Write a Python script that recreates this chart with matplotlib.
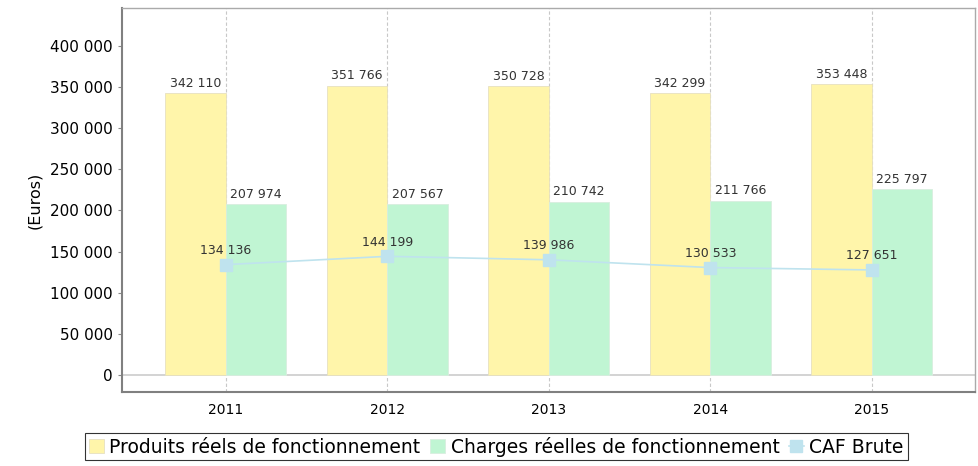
import numpy as np
import matplotlib.pyplot as plt
from matplotlib.ticker import FuncFormatter

annees = ["2011", "2012", "2013", "2014", "2015"]
produits = [342110, 351766, 350728, 342299, 353448]
charges = [207974, 207567, 210742, 211766, 225797]
caf = [134136, 144199, 139986, 130533, 127651]

jaune = "#fff5aa"
vert = "#c0f5d3"
bleu = "#bfe3ee"


def fmt(v):
    return f"{int(v):,}".replace(",", " ")


fig = plt.figure(figsize=(9.79, 4.66), dpi=100)
ax = fig.add_axes([122 / 979, 74 / 466, 853 / 979, 384 / 466])

x = np.arange(len(annees))
larg = 0.375
b1 = ax.bar(x - larg / 2, produits, larg, color=jaune, edgecolor="#e6e0c0", linewidth=0.6,
            label="Produits réels de fonctionnement", zorder=2)
b2 = ax.bar(x + larg / 2, charges, larg, color=vert, edgecolor="#d8eedf", linewidth=0.6,
            label="Charges réelles de fonctionnement", zorder=2)
l1, = ax.plot(x, caf, color=bleu, linewidth=1.2, marker="s", markersize=9,
              markeredgecolor=bleu, label="CAF Brute", zorder=3)

for xi, v in zip(x - larg / 2, produits):
    ax.text(xi, v + 4000, fmt(v), ha="center", va="bottom", fontsize=9, color="#333333")
for xi, v in zip(x + larg / 2, charges):
    ax.text(xi, v + 4000, fmt(v), ha="center", va="bottom", fontsize=9, color="#333333")
for xi, v in zip(x, caf):
    ax.text(xi, v + 9500, fmt(v), ha="center", va="bottom", fontsize=9, color="#333333", zorder=4)

ax.set_xlim(-0.644, 4.64)
ax.set_ylim(-20700, 446000)
ax.set_yticks(np.arange(0, 400001, 50000))
ax.yaxis.set_major_formatter(FuncFormatter(lambda v, p: fmt(v)))
ax.set_xticks(x)
ax.set_xticklabels(annees)
ax.tick_params(axis="x", length=0, labelsize=10, pad=8)
ax.tick_params(axis="y", length=3, labelsize=11, color="#888888")
ax.set_ylabel("(Euros)", fontsize=11.5, labelpad=6)

ax.axhline(0, color="#cccccc", linewidth=1.2, zorder=1)
for xi in x:
    ax.axvline(xi, color="#c8c8c8", linestyle=(0, (3, 2)), linewidth=0.8, zorder=1)

for s in ["left", "bottom"]:
    ax.spines[s].set_color("#808080")
    ax.spines[s].set_linewidth(1.5)
for s in ["top", "right"]:
    ax.spines[s].set_color("#aaaaaa")
    ax.spines[s].set_linewidth(1.0)

leg = fig.legend(handles=[b1, b2, l1], loc="lower center", bbox_to_anchor=(0.507, 0.0), ncol=3,
                 fontsize=13.5, frameon=True, fancybox=False, edgecolor="black", handlelength=0.8,
                 handleheight=0.8, handletextpad=0.3, columnspacing=0.5, borderpad=0.2,
                 borderaxespad=0.3)
leg.get_frame().set_linewidth(0.8)

fig.savefig("out.png", dpi=100)
